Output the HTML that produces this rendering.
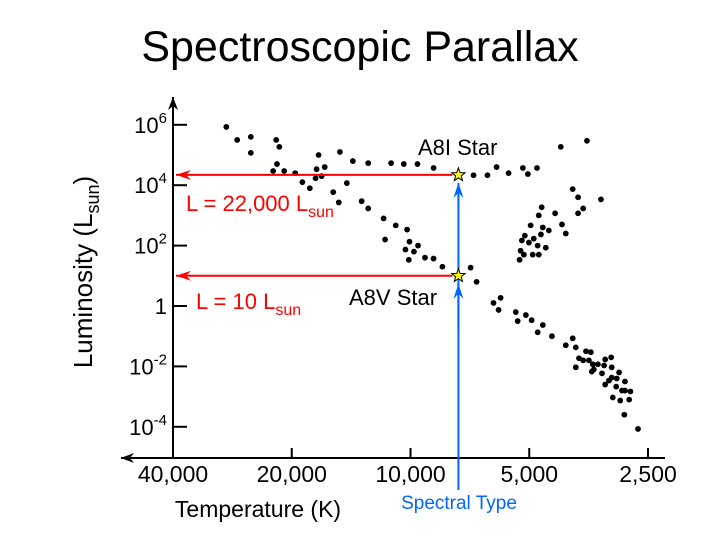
<!DOCTYPE html>
<html><head><meta charset="utf-8"><style>
html,body{margin:0;padding:0;background:#fff;}
svg{display:block;font-family:"Liberation Sans",Arial,sans-serif;}
</style></head><body>
<svg id="chart" width="720" height="540" viewBox="0 0 720 540" xmlns="http://www.w3.org/2000/svg">
<defs>
<marker id="ab" markerWidth="14" markerHeight="10" refX="13" refY="5" orient="auto" markerUnits="userSpaceOnUse"><path d="M0,0 L13,5 L0,10 L4,5 Z" fill="#000"/></marker>
<marker id="ar" markerWidth="16" markerHeight="10" refX="15" refY="5" orient="auto" markerUnits="userSpaceOnUse"><path d="M0,0 L15,5 L0,10 L5,5 Z" fill="#ff0000"/></marker>
<marker id="abl" markerWidth="16" markerHeight="10" refX="15" refY="5" orient="auto" markerUnits="userSpaceOnUse"><path d="M0,0 L15,5 L0,10 L5,5 Z" fill="#0066ff"/></marker>
</defs>
<text x="360" y="61" font-size="43" text-anchor="middle">Spectroscopic Parallax</text>
<g id="axes"></g>
<g id="dots"></g>
<g id="ann"></g>
<text transform="translate(92,272) rotate(-90)" font-size="26" text-anchor="middle">Luminosity (L<tspan font-size="18" dy="7">sun</tspan><tspan dy="-7">)</tspan></text>
<text x="258" y="517" font-size="23" text-anchor="middle">Temperature (K)</text>
<text x="459" y="509" font-size="19" fill="#0066ff" text-anchor="middle">Spectral Type</text>
</svg>
<script>
const xTickValues = [40000, 20000, 10000, 5000, 2500];
const xTickLabels = ["40,000", "20,000", "10,000", "5,000", "2,500"];
const yTickExps = [6, 4, 2, 0, -2, -4];
const temps = [29300,27500,25400,25400,21900,21500,21800,22300,20900,19600,17100,15100,17300,16500,17400,16800,18800,18000,15700,14500,15200,14000,12800,11200,10400,9600,8740,13300,12800,11700,11600,10900,10200,10060,9570,10300,9800,10100,9190,8740,8300,
4160,3570,6920,6380,6050,5640,5190,5040,4780,
3880,3760,3290,3650,3760,4650,4730,4300,4960,4620,4460,4130,4040,5130,4670,4870,5220,5010,4760,4540,5260,5160,4900,4730,5290,
7040,6800,5910,6160,5980,5410,5100,5350,4930,4620,4760,4380,3880,4040,3810,3590,3490,3740,3650,3530,3210,3100,3450,3350,3230,3090,3810,3430,3470,3270,2960,3000,3090,3140,2860,3210,3010,2910,2860,2770,3070,2940,2790,2870,2650];
const logLums = [5.93,5.5,5.6,5.07,5.5,5.27,4.7,4.47,4.47,4.4,5.0,5.1,4.53,4.6,4.23,4.3,4.1,3.9,3.77,4.07,3.43,4.8,4.73,4.73,4.7,4.7,4.57,3.47,3.23,2.9,2.2,2.67,2.53,2.13,2.0,1.87,1.8,1.53,1.6,1.57,1.3,
5.27,5.47,4.33,4.33,4.6,4.4,4.57,4.37,4.57,
3.87,3.6,3.53,3.23,3.07,3.27,3.0,3.07,2.67,2.6,2.5,2.7,2.4,2.33,2.37,2.23,2.17,2.1,2.0,1.93,1.83,1.7,1.7,1.7,1.53,
1.27,0.8,0.27,0.1,-0.13,-0.2,-0.3,-0.5,-0.47,-0.63,-0.87,-1.0,-1.07,-1.3,-1.37,-1.5,-1.53,-1.73,-1.8,-1.8,-1.77,-1.7,-1.93,-1.93,-1.97,-2.03,-2.03,-2.1,-2.17,-2.23,-2.2,-2.4,-2.37,-2.47,-2.5,-2.6,-2.67,-2.8,-2.8,-2.83,-3.03,-3.13,-3.1,-3.6,-4.07];
const starTemps = [7560, 7560];
const starLogL = [4.34, 1.0];
const starNames = ["A8I Star", "A8V Star"];
const lumLabels = ["22,000", "10"];

const NS = "http://www.w3.org/2000/svg";
const X0 = 173, PXOCT = 118.75, Y0 = 306, PXDEC = 30.2;
function xs(T){ return X0 + Math.log2(40000 / T) * PXOCT; }
function ys(l){ return Y0 - l * PXDEC; }
function mk(tag, attrs, parent){ const e = document.createElementNS(NS, tag); for (const k in attrs) e.setAttribute(k, attrs[k]); parent.appendChild(e); return e; }

const axes = document.getElementById('axes');
let l = mk('line', {x1: X0, y1: 458, x2: X0, y2: 97, stroke: '#000', 'stroke-width': 2, 'marker-end': 'url(#ab)'}, axes);


l = mk('line', {x1: 665, y1: 458, x2: 121, y2: 458, stroke: '#000', 'stroke-width': 2, 'marker-end': 'url(#ab)'}, axes);


xTickValues.forEach((v, i) => {
  const x = xs(v);
  if (i > 0) {
    const t = mk('line', {x1: x, y1: 448, x2: x, y2: 458, stroke: '#000', 'stroke-width': 2}, axes);
    
    
  }
  const tx = mk('text', {x: x, y: 482, 'font-size': 23, 'text-anchor': 'middle'}, axes);
  tx.textContent = xTickLabels[i];
  
  
});
yTickExps.forEach(e => {
  const y = ys(e);
  const t = mk('line', {x1: X0, y1: y, x2: X0 + 14, y2: y, stroke: '#000', 'stroke-width': 2}, axes);
  
  
  const tx = mk('text', {x: 167, y: y + 8, 'font-size': 22, 'text-anchor': 'end'}, axes);
  
  
  if (e === 0) { tx.textContent = '1'; }
  else {
    tx.appendChild(document.createTextNode('10'));
    const s = document.createElementNS(NS, 'tspan');
    s.setAttribute('font-size', 15); s.setAttribute('dy', -10);
    s.textContent = String(e);
    tx.appendChild(s);
  }
});

const dots = document.getElementById('dots');
temps.forEach((T, i) => {
  const c = mk('circle', {cx: xs(T), cy: ys(logLums[i]), r: 2.9, fill: '#000'}, dots);
  
  
});

const ann = document.getElementById('ann');
const sx = xs(starTemps[0]);
let bl = mk('line', {x1: sx, y1: 490, x2: sx, y2: ys(starLogL[0]) + 8, stroke: '#0066ff', 'stroke-width': 2, 'marker-end': 'url(#abl)'}, ann);


let bl2 = mk('line', {x1: sx, y1: 330, x2: sx, y2: ys(starLogL[1]) + 8, stroke: '#0066ff', 'stroke-width': 2, 'marker-end': 'url(#abl)'}, ann);


function starPath(cx, cy, R){
  let d = '';
  for (let k = 0; k < 10; k++) {
    const r = k % 2 ? R * 0.42 : R;
    const a = -Math.PI / 2 + k * Math.PI / 5;
    d += (k ? 'L' : 'M') + (cx + r * Math.cos(a)).toFixed(1) + ',' + (cy + r * Math.sin(a)).toFixed(1);
  }
  return d + 'Z';
}
starLogL.forEach((lg, i) => {
  const y = ys(lg), x = xs(starTemps[i]);
  const ra = mk('line', {x1: x - 6, y1: y, x2: 176, y2: y, stroke: '#ff0000', 'stroke-width': 2, 'marker-end': 'url(#ar)'}, ann);
  
  
  const st = mk('path', {d: starPath(x, y, 7), fill: '#ffff00', stroke: '#000', 'stroke-width': 1}, ann);
  
  
  const nm = mk('text', {x: i === 0 ? 418 : 349, y: i === 0 ? 155 : 305, 'font-size': 22}, ann);
  nm.textContent = starNames[i];
  
  
  const lt = mk('text', {x: i === 0 ? 186 : 196, y: i === 0 ? y + 36 : y + 33, 'font-size': 22, fill: '#ff0000'}, ann);
  
  
  lt.appendChild(document.createTextNode('L = ' + lumLabels[i] + ' L'));
  const sb = document.createElementNS(NS, 'tspan');
  sb.setAttribute('font-size', 16); sb.setAttribute('dy', 6);
  sb.textContent = 'sun';
  lt.appendChild(sb);
});
</script>
</body></html>
